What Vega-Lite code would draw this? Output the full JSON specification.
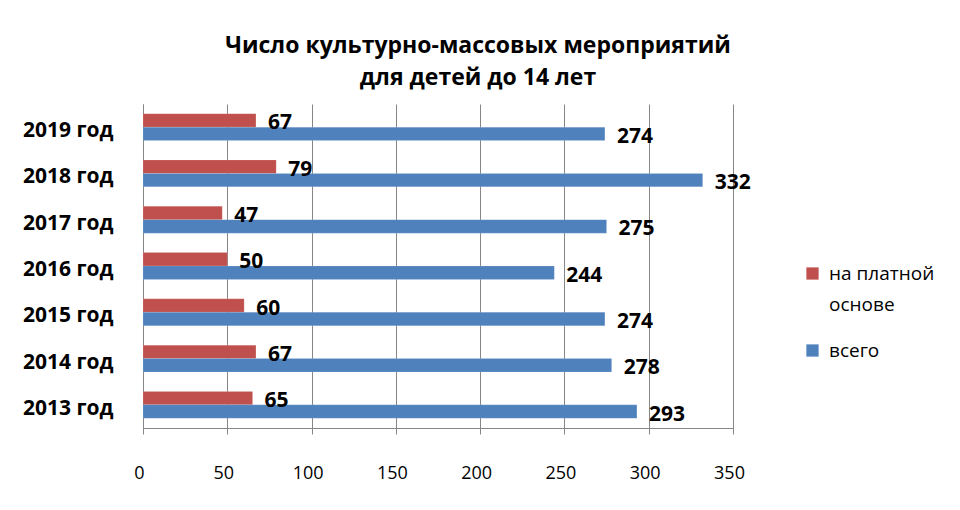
{
  "$schema": "https://vega.github.io/schema/vega-lite/v6.json",
  "width": 590,
  "height": 324,
  "autosize": {"type": "none"},
  "padding": {"left": 143, "top": 104, "right": 227, "bottom": 82},
  "background": "white",
  "title": {
    "text": ["Число культурно-массовых мероприятий", "для детей до 14 лет"],
    "font": "Open Sans",
    "fontSize": 23,
    "fontWeight": "bold",
    "color": "#000000",
    "lineHeight": 32,
    "anchor": "middle",
    "dx": 40,
    "offset": 14
  },
  "data": {
    "values": [
      {"year": "2019 год", "series": "на платной основе", "value": 67},
      {"year": "2019 год", "series": "всего", "value": 274},
      {"year": "2018 год", "series": "на платной основе", "value": 79},
      {"year": "2018 год", "series": "всего", "value": 332},
      {"year": "2017 год\u00a0", "series": "на платной основе", "value": 47},
      {"year": "2017 год\u00a0", "series": "всего", "value": 275},
      {"year": "2016 год", "series": "на платной основе", "value": 50},
      {"year": "2016 год", "series": "всего", "value": 244},
      {"year": "2015 год", "series": "на платной основе", "value": 60},
      {"year": "2015 год", "series": "всего", "value": 274},
      {"year": "2014 год", "series": "на платной основе", "value": 67},
      {"year": "2014 год", "series": "всего", "value": 278},
      {"year": "2013 год", "series": "на платной основе", "value": 65},
      {"year": "2013 год", "series": "всего", "value": 293}
    ]
  },
  "encoding": {
    "y": {
      "field": "year",
      "type": "nominal",
      "sort": null,
      "title": null,
      "scale": {"paddingInner": 0.42, "paddingOuter": 0.21},
      "axis": {
        "labelFont": "Open Sans",
        "labelFontSize": 21,
        "labelFontWeight": "bold",
        "labelColor": "#000000",
        "labelPadding": 30,
        "labelOffset": 4,
        "ticks": false,
        "domainColor": "#868686",
        "grid": false
      }
    },
    "yOffset": {"field": "series", "type": "nominal", "sort": ["на платной основе", "всего"]},
    "x": {
      "field": "value",
      "type": "quantitative",
      "title": null,
      "scale": {"domain": [0, 350], "nice": false},
      "axis": {
        "values": [0, 50, 100, 150, 200, 250, 300, 350],
        "labelFont": "Open Sans",
        "labelFontSize": 18,
        "labelColor": "#000000",
        "labelPadding": 30,
        "labelFlush": false,
        "labelOffset": -4,
        "tickSize": 6,
        "tickColor": "#868686",
        "domainColor": "#868686",
        "grid": true,
        "gridColor": "#868686",
        "gridWidth": 1
      }
    }
  },
  "layer": [
    {
      "mark": {"type": "bar", "stroke": "#ffffff", "strokeOpacity": 0.25, "strokeWidth": 0.5},
      "encoding": {
        "color": {
          "field": "series",
          "type": "nominal",
          "scale": {"domain": ["на платной основе", "всего"], "range": ["#C0504D", "#4F81BD"]},
          "legend": {
            "title": null,
            "orient": "none",
            "legendX": 660,
            "legendY": 160,
            "symbolType": "square",
            "symbolSize": 150,
            "symbolStrokeWidth": 0,
            "labelFont": "Open Sans",
            "labelFontSize": 19,
            "labelColor": "#000000",
            "labelOffset": 7,
            "rowPadding": 26,
            "labelExpr": "datum.label == 'на платной основе' ? ['на платной', 'основе'] : datum.label",
            "labelLimit": 200,
            "labelBaseline": "middle"
          }
        }
      }
    },
    {
      "mark": {
        "type": "text",
        "align": "left",
        "baseline": "middle",
        "dx": 12,
        "dy": 3,
        "font": "Open Sans",
        "fontSize": 21,
        "fontWeight": "bold",
        "color": "#000000"
      },
      "encoding": {"text": {"field": "value", "type": "quantitative"}}
    }
  ],
  "config": {
    "view": {"stroke": null},
    "style": {"guide-label": {"lineHeight": 31}}
  }
}
